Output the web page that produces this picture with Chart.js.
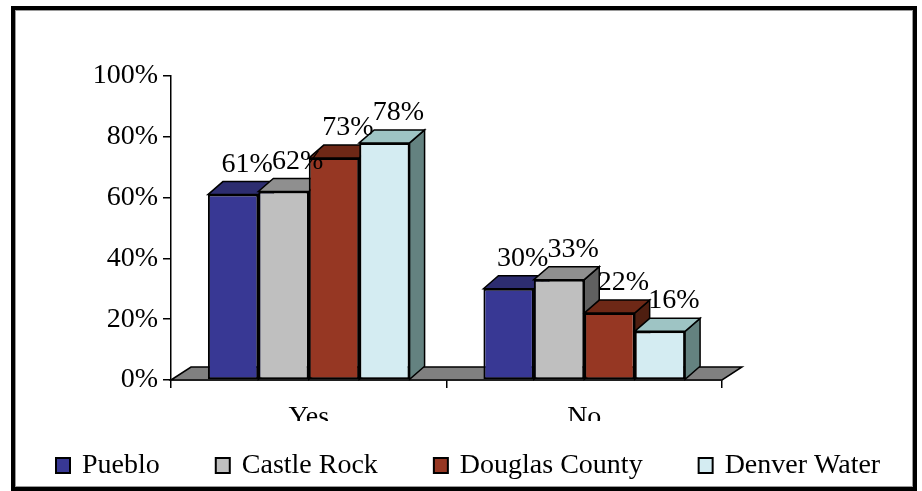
<!DOCTYPE html>
<html>
<head>
<meta charset="utf-8">
<title>Yes / No</title>
<script src="https://cdn.jsdelivr.net/npm/chart.js@4.4.1/dist/chart.umd.min.js"></script>
<style>
    html, body { margin: 0; padding: 0; background: #fff; }
    canvas { display: block; }
</style>
</head>
<body>
<canvas id="encuestaChart" width="922" height="491"></canvas>
<script>
// answers per utility, in percent
const categories = ["Yes", "No"];
const seriesNames = ["Pueblo", "Castle Rock", "Douglas County", "Denver Water"];
const pueblo = [61, 30];
const castleRock = [62, 33];
const douglasCounty = [73, 22];
const denverWater = [78, 16];
const yTickValues = [0, 20, 40, 60, 80, 100];

const seriesValues = [pueblo, castleRock, douglasCounty, denverWater];

// front / top / side shades of each box
const frontColors = ["#383894", "#BFBFBF", "#963723", "#D4ECF2"];
const topColors = ["#2D2D70", "#8F8F8F", "#6E2816", "#9EC4C4"];
const sideColors = ["#23235A", "#606060", "#4E1E10", "#648280"];

const FONT = "'Liberation Serif', 'Times New Roman', serif";
const DX = 15, DY = 13;              // depth of the boxes
const FLOOR_DX = 20, FLOOR_DY = 13;  // depth of the floor

function poly(ctx, pts, fill) {
    ctx.beginPath();
    ctx.moveTo(pts[0][0], pts[0][1]);
    for (let k = 1; k < pts.length; k++) ctx.lineTo(pts[k][0], pts[k][1]);
    ctx.closePath();
    ctx.fillStyle = fill;
    ctx.fill();
    ctx.stroke();
}

const box3d = {
    id: "box3d",
    beforeDatasetsDraw(chart) {
        const ctx = chart.ctx;
        const a = chart.chartArea;
        ctx.save();
        ctx.lineWidth = 1.5;
        ctx.strokeStyle = "#000";

        // floor
        poly(ctx, [
            [a.left, a.bottom],
            [a.left + FLOOR_DX, a.bottom - FLOOR_DY],
            [a.right + FLOOR_DX, a.bottom - FLOOR_DY],
            [a.right, a.bottom]
        ], "#808080");

        // side and top of each bar, left to right so the next front hides the side
        for (let j = 0; j < categories.length; j++) {
            chart.data.datasets.forEach((ds, i) => {
                const bar = chart.getDatasetMeta(i).data[j];
                const p = bar.getProps(["x", "y", "base", "width"], true);
                const l = p.x - p.width / 2, r = p.x + p.width / 2;
                poly(ctx, [[r, p.y], [r + DX, p.y - DY], [r + DX, p.base - DY], [r, p.base]], sideColors[i]);
                poly(ctx, [[l, p.y], [l + DX, p.y - DY], [r + DX, p.y - DY], [r, p.y]], topColors[i]);
            });
        }
        ctx.restore();
    },
    afterDatasetsDraw(chart) {
        const ctx = chart.ctx;
        ctx.save();
        ctx.font = "28px " + FONT;
        ctx.fillStyle = "#000";
        ctx.textAlign = "center";
        ctx.textBaseline = "alphabetic";
        chart.data.datasets.forEach((ds, i) => {
            chart.getDatasetMeta(i).data.forEach((bar, j) => {
                ctx.fillText(ds.data[j] + "%", bar.x + 14, bar.y - DY - 10);
            });
        });
        ctx.restore();
    },
    afterDraw(chart) {
        const ctx = chart.ctx;
        const xs = chart.scales.x;
        ctx.save();

        // category names, cut by the legend strip
        ctx.save();
        ctx.beginPath();
        ctx.rect(0, 0, chart.width, 421);
        ctx.clip();
        ctx.font = "28px " + FONT;
        ctx.fillStyle = "#000";
        ctx.textAlign = "center";
        ctx.textBaseline = "alphabetic";
        categories.forEach((c, j) => ctx.fillText(c, xs.getPixelForValue(j), 425));
        ctx.restore();

        // legend
        ctx.font = "28px " + FONT;
        ctx.textAlign = "left";
        ctx.textBaseline = "middle";
        let lx = 56;
        const ly = 466;
        chart.data.datasets.forEach((ds, i) => {
            ctx.fillStyle = ds.backgroundColor;
            ctx.fillRect(lx, ly - 8, 14, 15);
            ctx.lineWidth = 2;
            ctx.strokeStyle = "#000";
            ctx.strokeRect(lx, ly - 8, 14, 15);
            ctx.fillStyle = "#000";
            ctx.fillText(ds.label, lx + 26, ly);
            lx += 26 + ctx.measureText(ds.label).width + 56;
        });

        // outer frame
        ctx.lineWidth = 4;
        ctx.strokeStyle = "#000";
        ctx.strokeRect(13, 8, 902, 481);
        ctx.lineWidth = 1;
        ctx.strokeStyle = "#9a9a9a";
        ctx.strokeRect(15.5, 10.5, 897, 476);
        ctx.restore();
    }
};

const ctx = document.getElementById("encuestaChart").getContext("2d");

new Chart(ctx, {
    type: "bar",
    data: {
        labels: categories,
        datasets: seriesNames.map((name, i) => ({
            label: name,
            data: seriesValues[i],
            backgroundColor: frontColors[i],
            borderColor: "#000",
            borderWidth: 2,
            borderSkipped: false,
            categoryPercentage: 0.732,
            barPercentage: 1
        }))
    },
    options: {
        responsive: false,
        animation: false,
        events: [],
        layout: { padding: { top: 76, right: 200, bottom: 96, left: 0 } },
        plugins: {
            legend: { display: false },
            tooltip: { enabled: false }
        },
        scales: {
            x: {
                grid: {
                    display: true,
                    drawOnChartArea: false,
                    drawTicks: true,
                    tickLength: 8,
                    color: "#000",
                    lineWidth: 1.5,
                    offset: true
                },
                border: { display: true, color: "#000", width: 1.5 },
                ticks: { display: false },
                afterFit(scale) { scale.height = 15; }
            },
            y: {
                min: 0,
                max: 100,
                afterBuildTicks(scale) {
                    scale.ticks = yTickValues.map(v => ({ value: v }));
                },
                grid: {
                    display: true,
                    drawOnChartArea: false,
                    drawTicks: true,
                    tickLength: 8,
                    color: "#000",
                    lineWidth: 1.5
                },
                border: { display: true, color: "#000", width: 1.5 },
                ticks: {
                    color: "#000",
                    padding: 5,
                    font: { family: FONT, size: 28 },
                    callback: v => v + "%"
                },
                afterFit(scale) { scale.width = 171; }
            }
        }
    },
    plugins: [box3d]
});
</script>
</body>
</html>
